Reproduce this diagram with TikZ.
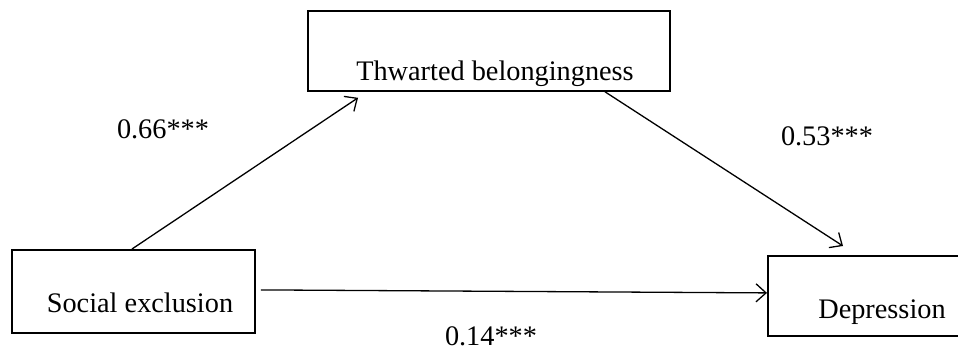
\documentclass[tikz,border=0pt]{standalone}
\usepackage{fontspec}
\setmainfont{Liberation Serif}
\usetikzlibrary{arrows.meta}
\begin{document}
\begin{tikzpicture}[x=1pt,y=-1pt,
  box/.style={draw=black, line width=1.8pt, rectangle, inner sep=0pt, anchor=north west},
  lbl/.style={anchor=base, inner sep=0pt, font=\fontsize{28.3}{33}\selectfont},
  arr/.style={draw=black, line width=1.3pt, -{Straight Barb[length=10pt,width=18pt,line width=1.3pt]}}]
\useasboundingbox (0,0) rectangle (958,350);
% boxes
\node[box, minimum width=362pt, minimum height=80pt] (tb) at (307,10) {};
\node[box, minimum width=243pt, minimum height=83pt] (se) at (11,249) {};
\node[box, minimum width=200pt, minimum height=80pt] (dep) at (767,255) {};
% box texts
\node[lbl] (tbt) at (495,81) {Thwarted belongingness};
\node[lbl] (set) at (140,312) {Social exclusion};
\node[lbl] (dept) at (882,318) {Depression};
% coefficients
\node[lbl] (c1) at (163,139) {0.66***};
\node[lbl] (c2) at (827,146) {0.53***};
\node[lbl] (c3) at (491,345) {0.14***};
% connectors
\draw[arr] ([xshift=121pt]se.north west) -- ([xshift=51pt,yshift=-6pt]tb.south west);
\draw[arr] ([xshift=298pt]tb.south west) -- ([xshift=76pt,yshift=9pt]dep.north west);
\draw[arr] ([xshift=5pt,yshift=1.5pt]se.east) -- ([yshift=3pt]dep.west);
\end{tikzpicture}
\end{document}
